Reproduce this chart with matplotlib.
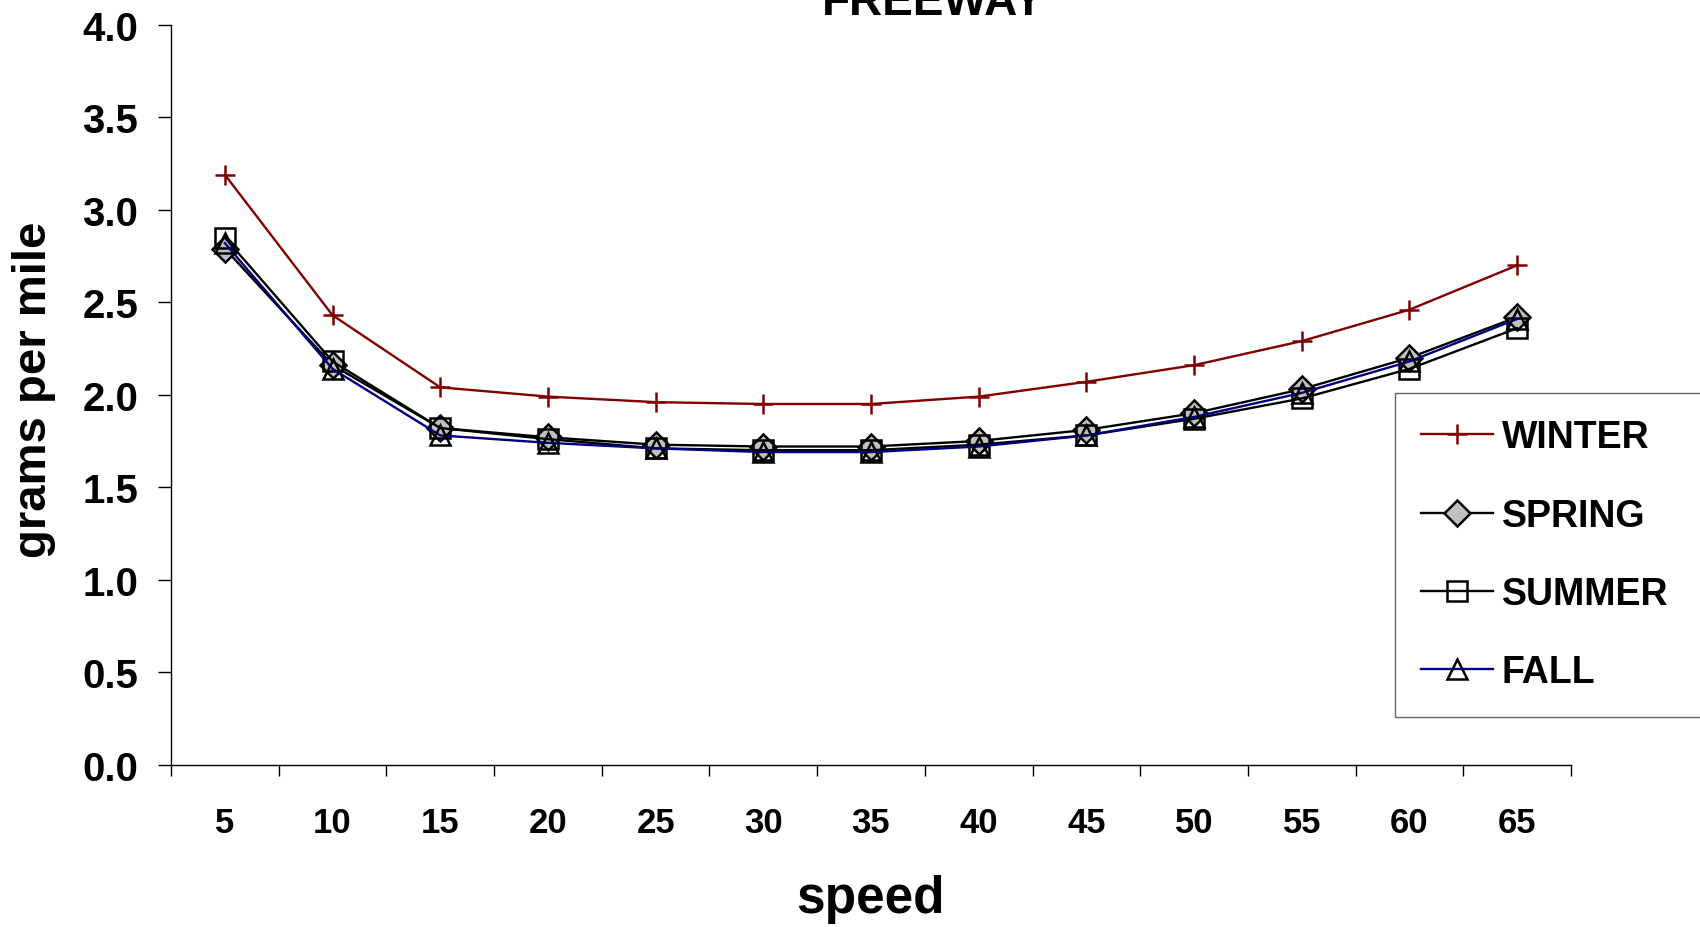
import matplotlib.pyplot as plt
import numpy as np

plt.rcParams['font.family'] = ['Liberation Sans', 'DejaVu Sans']
plt.rcParams['font.weight'] = 'bold'

# datos
speeds = ["5", "10", "15", "20", "25", "30", "35", "40", "45", "50", "55", "60", "65"]
winter = [3.19, 2.43, 2.04, 1.99, 1.96, 1.95, 1.95, 1.99, 2.07, 2.16, 2.29, 2.46, 2.70]
spring = [2.79, 2.16, 1.82, 1.77, 1.73, 1.72, 1.72, 1.75, 1.81, 1.90, 2.03, 2.20, 2.42]
summer = [2.85, 2.18, 1.82, 1.76, 1.71, 1.70, 1.70, 1.73, 1.78, 1.87, 1.98, 2.14, 2.36]
fall = [2.82, 2.14, 1.78, 1.74, 1.71, 1.69, 1.69, 1.72, 1.78, 1.88, 2.01, 2.18, 2.41]

fig = plt.figure(figsize=(17, 9.28), dpi=100)
ax = fig.add_axes([0.1006, 0.1751, 0.8235, 0.7969])

x = np.arange(len(speeds))
ax.plot(x, winter, color="#800000", lw=1.7, marker="+", ms=15, mew=1.8, label="WINTER")
ax.plot(x, spring, color="black", lw=1.7, marker="D", ms=13, mfc="#c0c0c0", mec="black", mew=1.8, label="SPRING")
ax.plot(x, summer, color="black", lw=1.7, marker="s", ms=14, mfc="none", mec="black", mew=1.8, label="SUMMER")
ax.plot(x, fall, color="#000080", lw=1.7, marker="^", ms=14, mfc="none", mec="black", mew=1.8, label="FALL")

ax.set_xlim(-0.5, len(speeds) - 0.5)
ax.set_ylim(0, 4)
ax.set_yticks(np.arange(0, 4.01, 0.5))
ax.set_yticklabels([f"{v:.1f}" for v in np.arange(0, 4.01, 0.5)], fontsize=29, fontweight="bold")
ax.tick_params(axis="y", direction="out", length=9.5, width=1, pad=14)

# ticks en los limites de categoria, etiquetas en el centro
ax.set_xticks(np.arange(-0.5, len(speeds), 1.0))
ax.set_xticklabels([])
ax.set_xticks(x, minor=True)
ax.set_xticklabels(speeds, minor=True, fontsize=25, fontweight="bold")
ax.tick_params(axis="x", which="major", direction="out", length=8, width=1)
ax.tick_params(axis="x", which="minor", length=0, pad=30)

for s in ["top", "right"]:
    ax.spines[s].set_visible(False)
for s in ["left", "bottom"]:
    ax.spines[s].set_linewidth(1)

fig.text(0.512, 0.0162, "speed", fontsize=37, fontweight="bold", ha="center", va="baseline")
fig.text(0.02, 0.58, "grams per mile", fontsize=34, fontweight="bold", rotation=90,
         ha="center", va="center")
fig.text(0.549, 0.984, "FREEWAY", fontsize=33, fontweight="bold", ha="center", va="baseline")

# la leyenda sale por el borde derecho como en el original
top = 1 - 394 / 928
leg = ax.legend(loc="upper left", bbox_to_anchor=(1395 / 1700, top - 0.5, 0.2, 0.5),
                mode="expand", bbox_transform=fig.transFigure, fontsize=27, frameon=True,
                fancybox=False, edgecolor="#404040", handlelength=1.9, handletextpad=0.25,
                labelspacing=1.13, borderpad=0.7, borderaxespad=0)
leg.get_frame().set_linewidth(1)
for t in leg.get_texts():
    t.set_fontweight("bold")

fig.savefig("out.png", dpi=100)
